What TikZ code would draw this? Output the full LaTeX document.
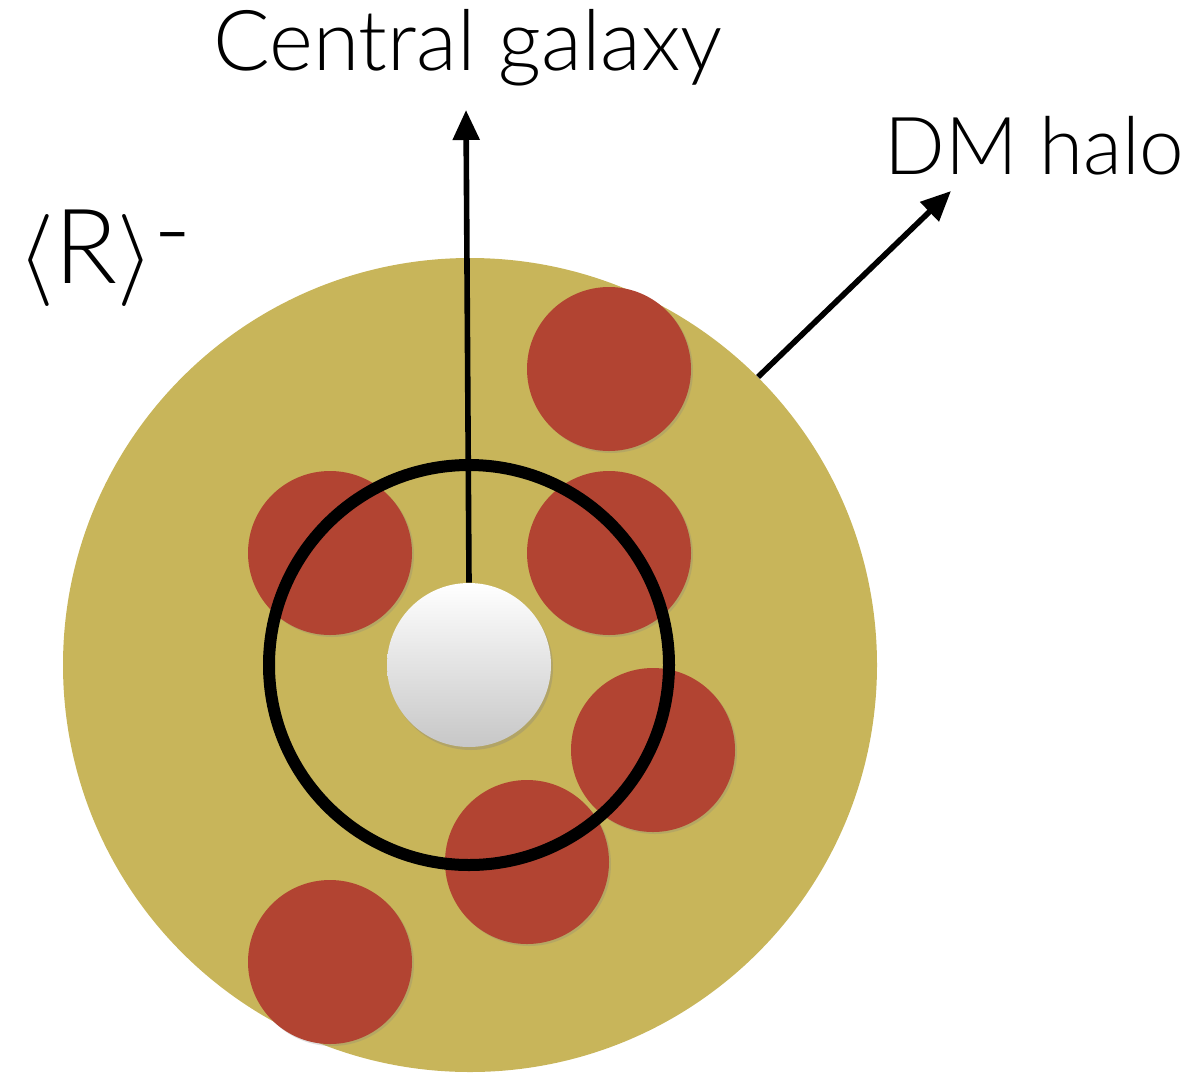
\RequirePackage{fix-cm}
\documentclass[tikz,border=0pt]{standalone}
\usepackage{fontspec}
\setmainfont{Lato}[UprightFont={* Light}]
\usetikzlibrary{arrows.meta, shadows}
\definecolor{halocol}{RGB}{200, 181, 90}
\definecolor{satcol}{RGB}{178, 68, 50}

\begin{document}
\begin{tikzpicture}[x=0.5pt, y=-0.5pt,
  sat/.style={circle, fill=satcol, minimum size=82pt, inner sep=0pt,
    drop shadow={opacity=0.25, shadow xshift=1pt, shadow yshift=-1pt}},
  label/.style={inner sep=0pt, font=\fontsize{42}{44}\selectfont},
  pointer/.style={line width=2.8pt, -{Triangle[length=15pt, width=13pt]}}]
\useasboundingbox (0,0) rectangle (1198,1076);
% halo and satellites
\node[circle, fill=halocol, minimum size=407pt, inner sep=0pt] (halo) at (470,665) {};
\node[sat] (s1) at (609,369) {};
\node[sat] (s2) at (330,553) {};
\node[sat] (s3) at (609,553) {};
\node[sat] (s4) at (653,750) {};
\node[sat] (s5) at (527,862) {};
\node[sat] (s6) at (330,962) {};
% central galaxy and aperture
\node[circle, minimum size=82pt, inner sep=0pt, top color=white, bottom color=black!22,
  drop shadow={opacity=0.3, shadow xshift=1pt, shadow yshift=-1.5pt}] (cen) at (469,665) {};
\node[circle, draw=black, line width=6pt, minimum size=200pt, inner sep=0pt] (ring) at (469,665) {};
% labels
\node[label] (cgtext) at (468,48) {Central galaxy};
\node[label, anchor=west, font=\fontsize{40}{42}\selectfont] (dmtext) at (884,146) {DM halo};
\node[label, anchor=base west, font=\fontsize{52}{54}\selectfont] (rtext) at (18,283)
  {{\fontsize{46}{48}\selectfont$\langle$}R{\fontsize{46}{48}\selectfont$\rangle$}\raisebox{9pt}{-}};
\coordinate (cgtip) at (466,110);
\coordinate (dmtip) at (951,191);
\draw[pointer] (cen.north) -- (cgtip);
\draw[pointer] (halo.45) -- (dmtip);
\end{tikzpicture}
\end{document}
